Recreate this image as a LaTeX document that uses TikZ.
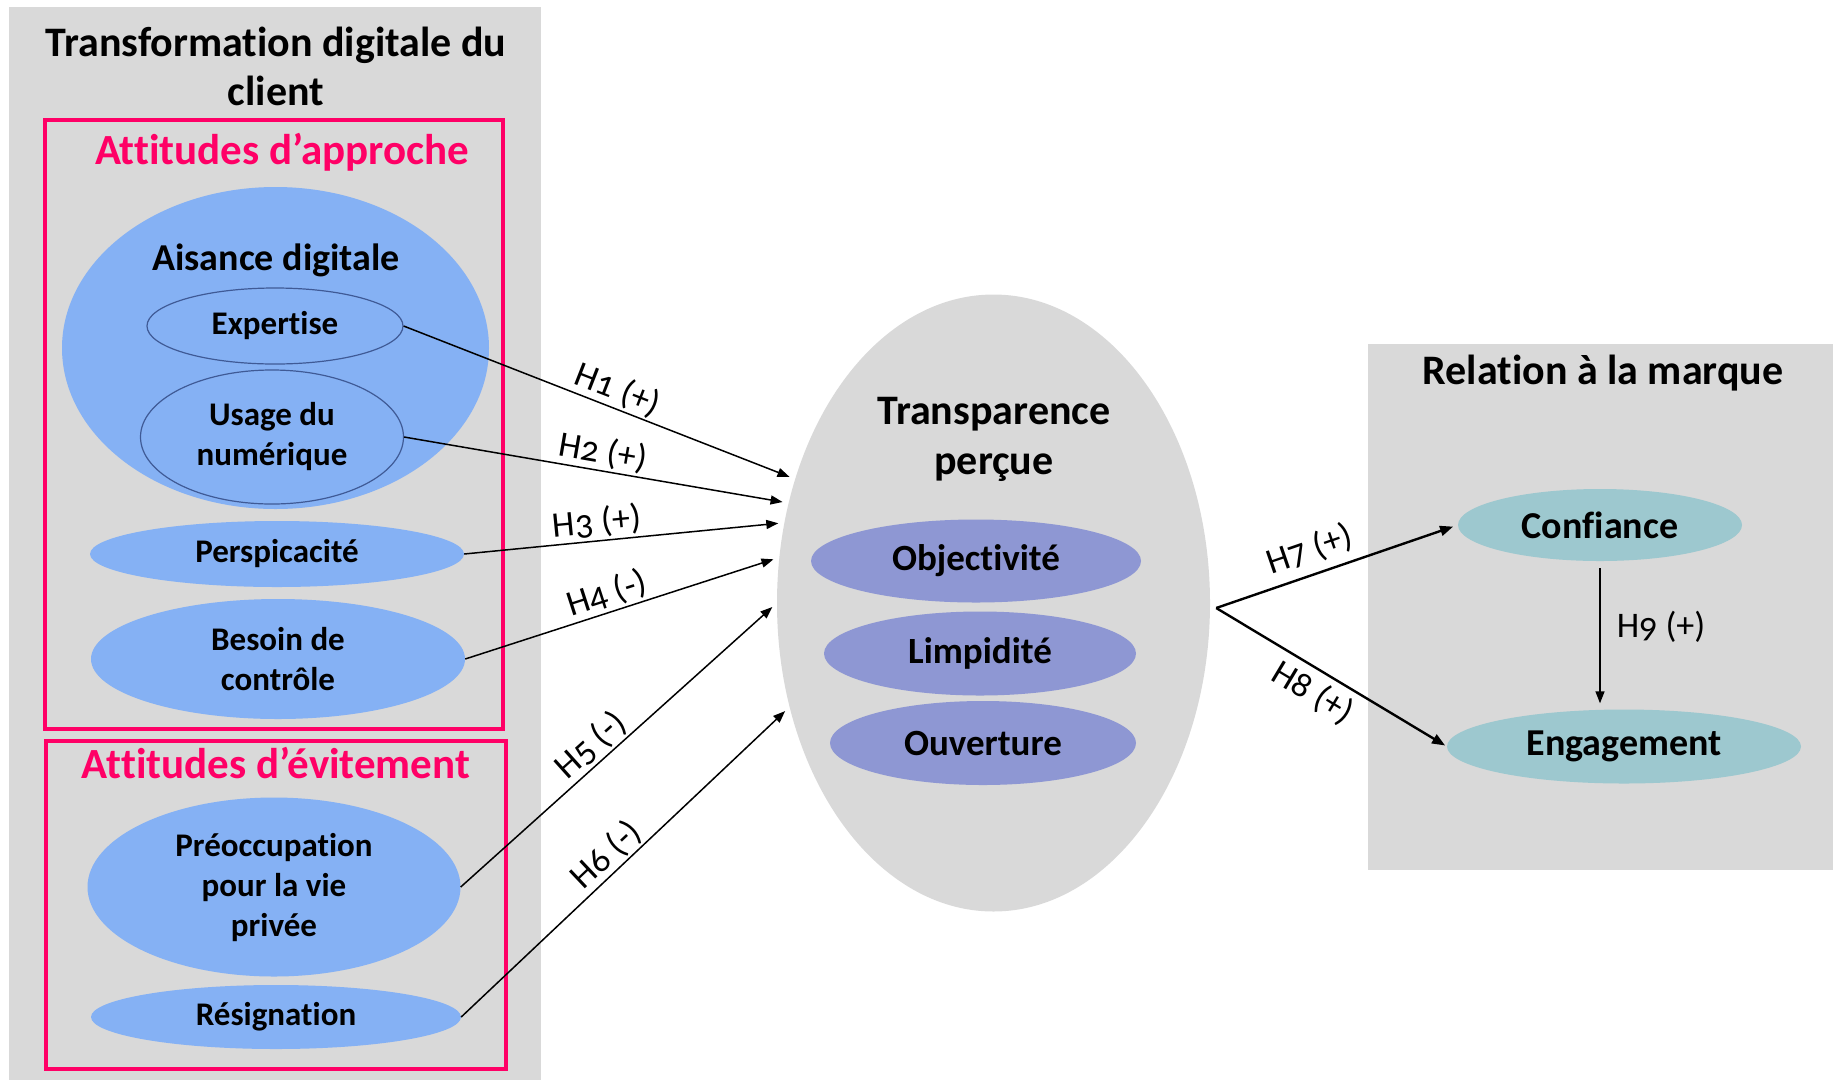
\documentclass[tikz,border=0pt]{standalone}
\usepackage{fontspec}
\setmainfont{Carlito}[Numbers=OldStyle, Ligatures=NoCommon]
\usetikzlibrary{arrows.meta,shapes.geometric}
\definecolor{panelgrey}{HTML}{D9D9D9}
\definecolor{pinkc}{HTML}{FF0066}
\definecolor{lblue}{HTML}{85B1F4}
\definecolor{dblue}{HTML}{3F5A96}
\definecolor{lavender}{HTML}{8E97D3}
\definecolor{tealc}{HTML}{9DC8CF}
\tikzset{
  panel/.style={fill=panelgrey, draw=none, anchor=north west, inner sep=0},
  pinkbox/.style={draw=pinkc, line width=4pt, anchor=north west, inner sep=0},
  ell/.style={ellipse, inner sep=0, align=center, font=\fontsize{33}{40}\selectfont\bfseries},
  blueell/.style={ell, fill=lblue},
  ringell/.style={ell, fill=lblue, draw=dblue, line width=1.2pt},
  lavell/.style={ell, fill=lavender, font=\fontsize{37}{40}\selectfont\bfseries},
  tealell/.style={ell, fill=tealc, font=\fontsize{38}{40}\selectfont\bfseries},
  title/.style={align=center, inner sep=0, font=\fontsize{42}{49}\selectfont\bfseries},
  pinktitle/.style={inner sep=0, text=pinkc, font=\fontsize{43}{46}\selectfont\bfseries},
  hyp/.style={-{Triangle[length=12pt,width=9pt]}, line width=1.5pt, shorten >=6pt},
  hypthick/.style={-{Triangle[length=13pt,width=10pt]}, line width=2.4pt},
  hlab/.style={font=\fontsize{36}{40}\selectfont, inner sep=2pt}
}
\begin{document}
\begin{tikzpicture}[x=1pt,y=-1pt]
\useasboundingbox (0,0) rectangle (1833,1080);
% panels
\node[panel, minimum width=532pt, minimum height=1073pt] (leftpanel) at (9,7) {};
\node[panel, minimum width=465pt, minimum height=526pt] (rightpanel) at (1368,344) {};
\node[title] (lefttitle) at (276,66) {Transformation digitale du\\client};
\node[pinkbox, minimum width=458pt, minimum height=609pt] (approche) at (43,118) {};
\node[pinkbox, minimum width=460pt, minimum height=328pt] (evitement) at (44,739) {};
\node[pinktitle] (approchetitle) at (282,152) {Attitudes d’approche};
\node[pinktitle] (evitementtitle) at (276,763) {Attitudes d’évitement};
% aisance digitale
\node[blueell, minimum width=427pt, minimum height=322pt] (aisance) at (275.5,348) {};
\node[inner sep=0, font=\fontsize{38}{40}\selectfont\bfseries] (aisancetitle) at (276,260) {Aisance digitale};
\node[ringell, minimum width=256pt, minimum height=76pt] (expertise) at (275,326) {Expertise};
\node[ringell, minimum width=263pt, minimum height=134pt] (usage) at (272,437) {Usage du\\numérique};
\node[blueell, minimum width=374pt, minimum height=66pt] (persp) at (277,554) {Perspicacité};
\node[blueell, minimum width=374pt, minimum height=120pt] (besoin) at (278,659) {Besoin de\\contrôle};
\node[blueell, minimum width=373pt, minimum height=179pt] (preocc) at (274,887) {Préoccupation\\pour la vie\\privée};
\node[blueell, minimum width=370pt, minimum height=64pt] (resig) at (276,1017) {Résignation};
% transparence
\node[ell, fill=panelgrey, minimum width=433pt, minimum height=617pt] (trans) at (993.5,603) {};
\node[title, font=\fontsize{42}{50}\selectfont\bfseries] (transtitle) at (994,439) {Transparence\\perçue};
\node[lavell, minimum width=330pt, minimum height=83pt] (objectivite) at (976,561) {Objectivité};
\node[lavell, minimum width=312pt, minimum height=84pt] (limpidite) at (980,653.5) {Limpidité};
\node[lavell, minimum width=306pt, minimum height=84pt] (ouverture) at (983,743) {Ouverture};
% relation a la marque
\node[title] (righttitle) at (1603,373) {Relation à la marque};
\node[tealell, minimum width=284pt, minimum height=72pt] (confiance) at (1600,525) {Confiance};
\node[tealell, minimum width=354pt, minimum height=74pt] (engagement) at (1624,746.5) {Engagement};
% hypotheses
\draw[hyp] (expertise.east) -- (trans.148.6) node[hlab, sloped, above, pos=0.53] {H1 (+)};
\draw[hyp] (usage.east) -- (trans.154.6) node[hlab, sloped, above, pos=0.51] {H2 (+)};
\draw[hyp] (persp.east) -- (trans.159.1) node[hlab, sloped, above, pos=0.42] {H3 (+)};
\draw[hyp] (besoin.east) -- (trans.168.6) node[hlab, sloped, above, pos=0.47] {H4 (-)};
\draw[hyp] (preocc.east) -- (trans.180) node[hlab, sloped, above, pos=0.45] {H5 (-)};
\draw[hyp] (resig.east) -- (trans.207.1) node[hlab, sloped, above, pos=0.48] {H6 (-)};
\coordinate (fork) at ([xshift=6pt,yshift=-5pt]trans.east);
\draw[hypthick, shorten >=5pt] (fork) -- (confiance.west) node[hlab, sloped, above=6pt, pos=0.42] {H7 (+)};
\draw[hypthick, shorten >=2pt] (fork) -- (engagement.west) node[hlab, sloped, below=4pt, pos=0.47] {H8 (+)};
\draw[hyp, shorten <=7pt] (confiance.south) -- (confiance.south |- engagement.north) node[hlab, right, midway, xshift=14pt, yshift=8pt] {H9 (+)};
\end{tikzpicture}
\end{document}
